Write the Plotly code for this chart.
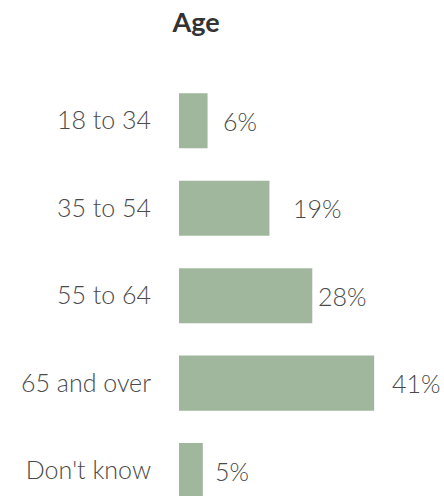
import plotly.graph_objects as go

categories = ["18 to 34", "35 to 54", "55 to 64", "65 and over", "Don't know"]
shares = [6, 19, 28, 41, 5]
value_labels = ["6%", "19%", "28%", "41%", "5%"]

bar_color = "#a0b79d"
text_color = "#4a4a4a"
font_family = "Lato"

fig = go.Figure(
    go.Bar(
        x=shares,
        y=categories,
        orientation="h",
        marker=dict(color=bar_color, line=dict(width=0)),
        hoverinfo="skip",
    )
)

# value labels sit to the right of each bar
label_shift = [13, 22, 4, 16, 10]
for cat, val, lab, dx in zip(categories, shares, value_labels, label_shift):
    fig.add_annotation(
        x=val, y=cat, text=lab, showarrow=False,
        xanchor="left", yanchor="middle", xshift=dx,
        font=dict(family=font_family, size=25, weight=300, color=text_color),
    )

fig.update_layout(
    width=444, height=496,
    margin=dict(l=179, r=27, t=77, b=0),
    paper_bgcolor="white", plot_bgcolor="white",
    bargap=0.37,
    showlegend=False,
    title=dict(
        text="<b>Age</b>", x=196 / 444, xref="container", xanchor="center",
        y=1 - 23 / 496, yref="container", yanchor="middle",
        font=dict(family=font_family, size=27, color="#333333"),
    ),
    xaxis=dict(range=[0, 50], visible=False, fixedrange=True),
    yaxis=dict(
        categoryorder="array", categoryarray=categories,
        range=[4.29, -0.5], showgrid=False, zeroline=False, showline=False,
        ticks="", ticklabelstandoff=27,
        tickfont=dict(family=font_family, size=25, weight=300, color=text_color),
        fixedrange=True,
    ),
)

fig.write_html("out.html")
